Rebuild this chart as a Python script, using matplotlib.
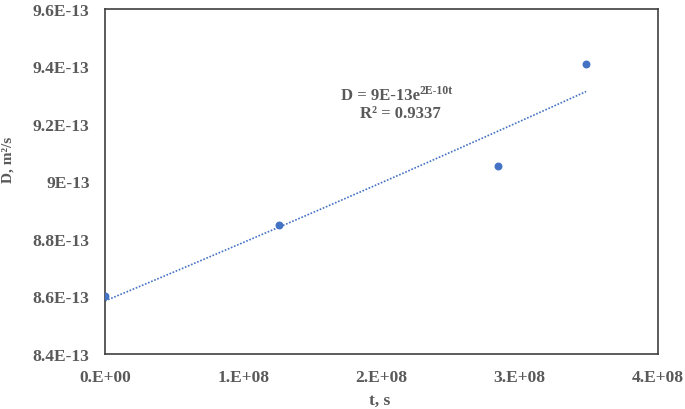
import numpy as np
import matplotlib.pyplot as plt
from matplotlib.ticker import FixedLocator

plt.rcParams['font.family'] = 'Liberation Serif'
plt.rcParams['font.weight'] = 'bold'

# data
t = [0.0, 1.26e8, 2.84e8, 3.48e8]
D = [8.60e-13, 8.85e-13, 9.055e-13, 9.41e-13]
yticks = [8.4e-13, 8.6e-13, 8.8e-13, 9.0e-13, 9.2e-13, 9.4e-13, 9.6e-13]
ylabels = ["8.4E-13", "8.6E-13", "8.8E-13", "9E-13", "9.2E-13", "9.4E-13", "9.6E-13"]
xticks = [0, 1e8, 2e8, 3e8, 4e8]
xlabels = ["0.E+00", "1.E+08", "2.E+08", "3.E+08", "4.E+08"]

blue = "#4472C4"
grey = "#595959"
W, H = 685, 410

# exponential trendline (fit on log values, like Excel)
b, lna = np.polyfit(t, np.log(D), 1)
tt = np.linspace(min(t), max(t), 100)
fit = np.exp(lna) * np.exp(b * tt)

fig = plt.figure(figsize=(6.85, 4.1), dpi=100)
ax = fig.add_axes([105 / W, 55 / H, 553 / W, 345 / H])

ax.plot(tt, fit, linestyle=(0, (1, 1)), color=blue, linewidth=1.2)
ax.scatter(t, D, color=blue, s=22, zorder=3)

ax.set_xlim(0, 4e8)
ax.set_ylim(8.4e-13, 9.6e-13)
ax.xaxis.set_major_locator(FixedLocator(xticks))
ax.yaxis.set_major_locator(FixedLocator(yticks))
ax.set_xticklabels(xlabels)
ax.set_yticklabels(ylabels)
ax.tick_params(length=0, labelsize=12.5, labelcolor=grey)
ax.tick_params(axis='y', pad=11)
ax.tick_params(axis='x', pad=11)
for s in ax.spines.values():
    s.set_color("#404040")
    s.set_linewidth(1.2)

# axis titles
fig.text(380 / W, 1 - 405 / H, "t, s", ha='center', va='baseline',
         fontsize=12.5, color=grey, fontweight='bold')
fig.text(8 / W, 1 - 160 / H, "D, m²/s", ha='center', va='center', rotation=90,
         fontsize=11, color=grey, fontweight='bold')

# trendline equation
fig.text(420 / W, 1 - 100 / H, "D = 9E-13e", ha='right', va='baseline',
         fontsize=12, color=grey, fontweight='bold')
fig.text(420 / W, 1 - 94 / H, "2E-10t", ha='left', va='baseline',
         fontsize=8.5, color=grey, fontweight='bold')
fig.text(400 / W, 1 - 118 / H, "R² = 0.9337", ha='center', va='baseline',
         fontsize=12, color=grey, fontweight='bold')

fig.savefig("out.png", dpi=100)
